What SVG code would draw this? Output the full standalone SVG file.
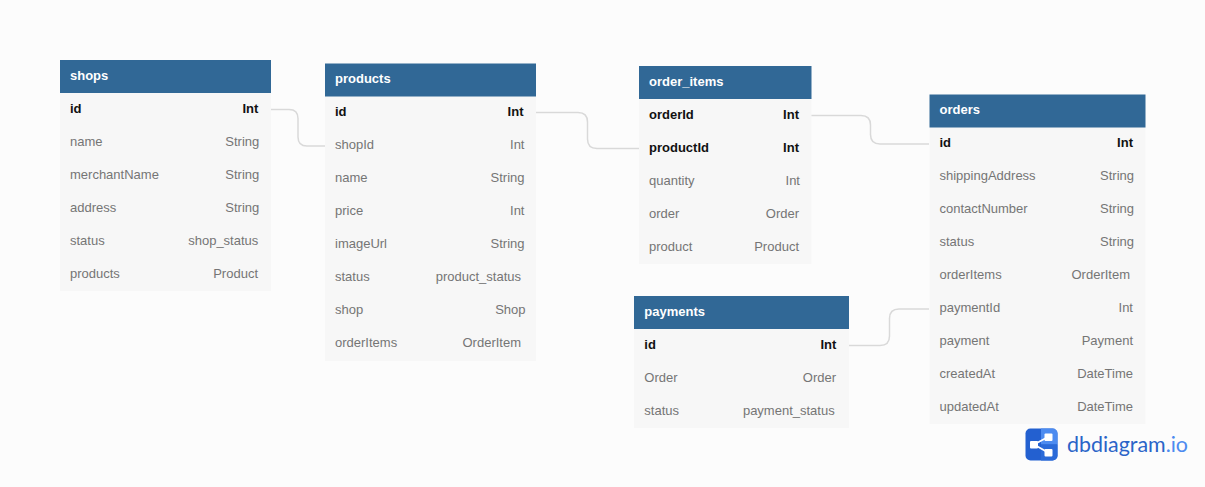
<svg xmlns="http://www.w3.org/2000/svg" width="1205" height="487" viewBox="0 0 1205 487">
<style>
text{font-family:"Liberation Sans",Arial,sans-serif;font-size:13px}
.h{fill:#316896}.b{fill:#f7f7f7}
.t{fill:#fff;font-weight:700}
.f{fill:#757575}.k{fill:#111;font-weight:700}
.r{text-anchor:end}
.c{fill:none;stroke:#d9d9d9;stroke-width:1.5}
</style>
<rect width="1205" height="487" fill="#fcfcfc"/>
<g id="connectors">
<path class="c" d="M271 109.500H289Q298 109.500 298 118.500V137Q298 146 307 146H325"/>
<path class="c" d="M536 112.500H578Q587.500 112.500 587.500 122V139Q587.500 148.500 597 148.500H639"/>
<path class="c" d="M811 115.500H861Q870.500 115.500 870.500 125V134.500Q870.500 144 880 144H929"/>
<path class="c" d="M849 345.500H880Q889.500 345.500 889.500 336V318.500Q889.500 309 899 309H929"/>
</g>
<g id="shops">
<rect class="b" x="60" y="93" width="211" height="198"/><rect class="h" x="60" y="60" width="211" height="33"/>
<text class="t" x="70" y="80">shops</text>
<text class="k" x="70" y="113">id</text><text class="k r" x="258.300" y="113">Int</text>
<text class="f" x="70" y="146">name</text><text class="f r" x="259.300" y="146">String</text>
<text class="f" x="70" y="179">merchantName</text><text class="f r" x="259.300" y="179">String</text>
<text class="f" x="70" y="212">address</text><text class="f r" x="259.300" y="212">String</text>
<text class="f" x="70" y="245">status</text><text class="f r" x="258.300" y="245">shop_status</text>
<text class="f" x="70" y="278">products</text><text class="f r" x="258" y="278">Product</text>
</g>
<g id="products">
<rect class="b" x="325" y="96" width="211" height="265"/><rect class="h" x="325" y="63.500" width="211" height="33"/>
<text class="t" x="335" y="83">products</text>
<text class="k" x="335" y="116">id</text><text class="k r" x="523.500" y="116">Int</text>
<text class="f" x="335" y="149">shopId</text><text class="f r" x="524.500" y="149">Int</text>
<text class="f" x="335" y="182">name</text><text class="f r" x="524.500" y="182">String</text>
<text class="f" x="335" y="215">price</text><text class="f r" x="524.500" y="215">Int</text>
<text class="f" x="335" y="248">imageUrl</text><text class="f r" x="524.500" y="248">String</text>
<text class="f" x="335" y="281">status</text><text class="f r" x="521" y="281">product_status</text>
<text class="f" x="335" y="314">shop</text><text class="f r" x="525.500" y="314">Shop</text>
<text class="f" x="335" y="347">orderItems</text><text class="f r" x="521" y="347">OrderItem</text>
</g>
<g id="order_items">
<rect class="b" x="639" y="99" width="172.500" height="165"/><rect class="h" x="639" y="66" width="172.500" height="33"/>
<text class="t" x="649" y="86">order_items</text>
<text class="k" x="649" y="119">orderId</text><text class="k r" x="799" y="119">Int</text>
<text class="k" x="649" y="152">productId</text><text class="k r" x="799" y="152">Int</text>
<text class="f" x="649" y="185">quantity</text><text class="f r" x="800" y="185">Int</text>
<text class="f" x="649" y="218">order</text><text class="f r" x="799" y="218">Order</text>
<text class="f" x="649" y="251">product</text><text class="f r" x="799" y="251">Product</text>
</g>
<g id="payments">
<rect class="b" x="634" y="329" width="215" height="99"/><rect class="h" x="634" y="296" width="215" height="33"/>
<text class="t" x="644.300" y="316">payments</text>
<text class="k" x="644.300" y="349">id</text><text class="k r" x="836.400" y="349">Int</text>
<text class="f" x="644.300" y="382">Order</text><text class="f r" x="836" y="382">Order</text>
<text class="f" x="644.300" y="415">status</text><text class="f r" x="834.700" y="415">payment_status</text>
</g>
<g id="orders">
<rect class="b" x="929.500" y="127" width="216" height="297"/><rect class="h" x="929.500" y="94.500" width="216" height="33"/>
<text class="t" x="939.500" y="114">orders</text>
<text class="k" x="939.500" y="147">id</text><text class="k r" x="1133" y="147">Int</text>
<text class="f" x="939.500" y="180">shippingAddress</text><text class="f r" x="1134" y="180">String</text>
<text class="f" x="939.500" y="213">contactNumber</text><text class="f r" x="1134" y="213">String</text>
<text class="f" x="939.500" y="246">status</text><text class="f r" x="1134" y="246">String</text>
<text class="f" x="939.500" y="279">orderItems</text><text class="f r" x="1130" y="279">OrderItem</text>
<text class="f" x="939.500" y="312">paymentId</text><text class="f r" x="1133" y="312">Int</text>
<text class="f" x="939.500" y="345">payment</text><text class="f r" x="1133" y="345">Payment</text>
<text class="f" x="939.500" y="378">createdAt</text><text class="f r" x="1133" y="378">DateTime</text>
<text class="f" x="939.500" y="411">updatedAt</text><text class="f r" x="1133" y="411">DateTime</text>
</g>
<g id="dbdiagram-logo">
<rect x="1025.500" y="428.500" width="32" height="32" rx="5" fill="#2360d0"/>
<path d="M1041 428.500H1052.500a5 5 0 0 1 5 5V444.500H1041Z" fill="#4c8bf0"/>
<path d="M1041 444.500H1057.500V455.500a5 5 0 0 1-5 5H1041Z" fill="#2a6ad8"/>
<path d="M1034 444.500L1048 437M1034 444.500L1048 452.500" stroke="#fff" stroke-width="1.800" fill="none"/>
<rect x="1030" y="441" width="8" height="7.500" rx="1" fill="#fff"/>
<rect x="1044.500" y="433.500" width="8" height="7.500" rx="1" fill="#fff"/>
<rect x="1044.500" y="449" width="8" height="7.500" rx="1" fill="#fff"/>
<text x="1067" y="452" textLength="121" lengthAdjust="spacingAndGlyphs" style="font-family:Lato,'Liberation Sans',sans-serif;font-size:21px" fill="#2a64c8">dbdiagram<tspan fill="#4c8bf0">.io</tspan></text>
</g>
</svg>
